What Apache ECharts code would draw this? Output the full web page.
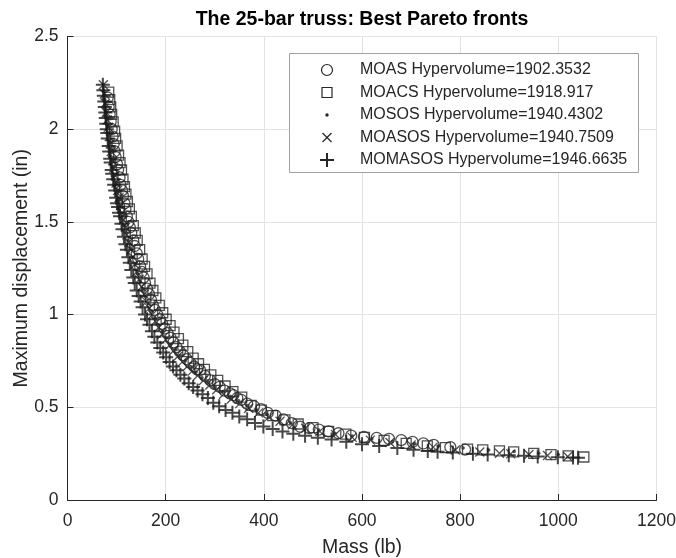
<!DOCTYPE html>
<html>
<head>
<meta charset="utf-8">
<title>The 25-bar truss: Best Pareto fronts</title>
<script src="https://cdn.jsdelivr.net/npm/echarts@6/dist/echarts.min.js"></script>
<style>
  html, body { margin: 0; padding: 0; background: #fff; }
  #chart { width: 676px; height: 558px; }
</style>
</head>
<body>
<div id="chart"></div>
<script>
  // values (mass in lb, max displacement in in)
  const moasMass = [82, 84, 86, 88, 90, 92, 94, 96, 98, 101, 103, 106, 108, 111, 113, 116, 118, 121, 124, 127, 130, 134, 137, 141, 144, 148, 151, 155, 158, 162, 166, 170, 174, 178, 183, 188, 193, 198, 204, 210, 216, 222, 229, 236, 243, 250, 258, 264, 270, 280, 291, 300, 310, 320, 331, 338, 346, 354, 366, 380, 394, 408, 424, 440, 457, 474, 493, 512, 532, 552, 578, 604, 630, 655, 680, 703, 725, 746, 780, 810]
  const moasDisp = [2.17, 2.12, 2.08, 2.04, 2.00, 1.96, 1.92, 1.88, 1.85, 1.81, 1.78, 1.74, 1.70, 1.67, 1.64, 1.60, 1.57, 1.53, 1.50, 1.47, 1.44, 1.40, 1.37, 1.33, 1.30, 1.26, 1.23, 1.20, 1.17, 1.14, 1.11, 1.08, 1.05, 1.025, 1.00, 0.975, 0.95, 0.925, 0.90, 0.875, 0.85, 0.825, 0.80, 0.78, 0.76, 0.74, 0.72, 0.705, 0.70, 0.67, 0.645, 0.625, 0.61, 0.59, 0.575, 0.566, 0.55, 0.54, 0.52, 0.505, 0.49, 0.47, 0.455, 0.435, 0.415, 0.395, 0.387, 0.38, 0.37, 0.36, 0.347, 0.34, 0.335, 0.33, 0.323, 0.313, 0.305, 0.297, 0.285, 0.272]

  const moacsMass = [84, 86, 88, 90, 93, 96, 98, 101, 104, 107, 110, 113, 116, 119, 122, 126, 130, 134, 138, 142, 147, 152, 157, 162, 168, 174, 180, 187, 194, 201, 209, 217, 226, 235, 245, 256, 267, 279, 292, 306, 321, 337, 355, 374, 395, 418, 443, 470, 500, 532, 567, 605, 645, 690, 733, 770, 815, 846, 880, 909, 950, 985, 1020, 1052]
  const moacsDisp = [2.20, 2.16, 2.12, 2.08, 2.04, 1.99, 1.95, 1.91, 1.86, 1.82, 1.78, 1.73, 1.69, 1.65, 1.61, 1.57, 1.53, 1.48, 1.44, 1.40, 1.35, 1.30, 1.26, 1.22, 1.17, 1.13, 1.09, 1.05, 1.01, 0.975, 0.94, 0.905, 0.87, 0.835, 0.80, 0.765, 0.735, 0.705, 0.675, 0.645, 0.615, 0.585, 0.555, 0.51, 0.485, 0.455, 0.432, 0.41, 0.39, 0.37, 0.355, 0.338, 0.322, 0.305, 0.292, 0.282, 0.274, 0.27, 0.265, 0.26, 0.252, 0.245, 0.238, 0.232]

  const mososMass = [75, 76, 78, 80, 82, 84, 86, 88, 91, 93, 96, 99, 102, 105, 108, 112, 116, 120, 124, 128, 133, 138, 143, 148, 154, 160, 166, 172, 179, 186, 194, 202, 211, 220, 230, 240, 251, 262, 274, 287, 301, 316, 332, 349, 367, 386, 407, 430, 455, 482, 512, 545, 580, 620, 662, 708, 756, 806, 858, 910, 960, 1000]
  const mososDisp = [2.20, 2.16, 2.12, 2.07, 2.02, 1.98, 1.93, 1.89, 1.84, 1.80, 1.75, 1.70, 1.66, 1.62, 1.58, 1.53, 1.48, 1.44, 1.40, 1.36, 1.31, 1.27, 1.22, 1.18, 1.14, 1.10, 1.06, 1.02, 0.98, 0.945, 0.91, 0.875, 0.84, 0.81, 0.78, 0.75, 0.72, 0.69, 0.66, 0.635, 0.61, 0.585, 0.56, 0.535, 0.51, 0.485, 0.46, 0.438, 0.415, 0.395, 0.377, 0.36, 0.345, 0.33, 0.316, 0.303, 0.291, 0.28, 0.27, 0.261, 0.252, 0.246]

  const moasosMass = [73, 75, 77, 79, 81, 83, 85, 87, 89, 92, 94, 97, 99, 102, 105, 108, 111, 114, 118, 121, 125, 129, 133, 137, 141, 146, 151, 156, 161, 167, 173, 179, 186, 193, 200, 208, 216, 225, 234, 244, 254, 265, 277, 290, 304, 318, 334, 351, 369, 389, 410, 433, 458, 485, 514, 546, 580, 617, 657, 700, 745, 790, 840, 880, 903, 940, 978, 1019]
  const moasosDisp = [2.24, 2.19, 2.14, 2.09, 2.05, 2.01, 1.96, 1.92, 1.88, 1.83, 1.79, 1.75, 1.71, 1.67, 1.63, 1.59, 1.55, 1.51, 1.47, 1.43, 1.39, 1.35, 1.31, 1.27, 1.23, 1.19, 1.15, 1.11, 1.07, 1.035, 1.00, 0.965, 0.93, 0.895, 0.865, 0.835, 0.805, 0.775, 0.745, 0.72, 0.695, 0.67, 0.645, 0.62, 0.595, 0.57, 0.545, 0.52, 0.495, 0.47, 0.447, 0.425, 0.405, 0.387, 0.37, 0.353, 0.338, 0.323, 0.31, 0.297, 0.285, 0.27, 0.259, 0.252, 0.249, 0.245, 0.24, 0.235]

  const momasosMass = [72, 73, 74, 75, 76, 77, 78, 79, 80, 81, 82, 84, 85, 87, 88, 90, 91, 93, 95, 97, 99, 101, 103, 105, 107, 110, 112, 115, 118, 121, 124, 127, 130, 134, 137, 141, 145, 149, 153, 158, 162, 167, 172, 177, 183, 189, 195, 201, 208, 215, 222, 230, 238, 247, 256, 265, 275, 286, 297, 309, 322, 336, 350, 366, 382, 399, 418, 438, 460, 484, 510, 538, 568, 600, 635, 672, 705, 734, 754, 785, 826, 856, 899, 930, 958, 999, 1030, 1040]
  const momasosDisp = [2.24, 2.21, 2.18, 2.15, 2.12, 2.09, 2.06, 2.03, 2.00, 1.98, 1.95, 1.91, 1.88, 1.84, 1.82, 1.78, 1.76, 1.73, 1.70, 1.67, 1.63, 1.60, 1.58, 1.55, 1.53, 1.49, 1.46, 1.42, 1.38, 1.35, 1.31, 1.28, 1.24, 1.20, 1.17, 1.13, 1.10, 1.07, 1.04, 1.00, 0.975, 0.945, 0.91, 0.88, 0.85, 0.82, 0.795, 0.77, 0.745, 0.72, 0.70, 0.675, 0.655, 0.63, 0.61, 0.59, 0.57, 0.55, 0.525, 0.505, 0.485, 0.47, 0.45, 0.435, 0.415, 0.397, 0.383, 0.37, 0.358, 0.347, 0.336, 0.326, 0.314, 0.301, 0.291, 0.28, 0.271, 0.264, 0.26, 0.256, 0.25, 0.246, 0.241, 0.238, 0.235, 0.231, 0.229, 0.228]

  const legendNames = ['MOAS Hypervolume=1902.3532', 'MOACS Hypervolume=1918.917', 'MOSOS Hypervolume=1940.4302', 'MOASOS Hypervolume=1940.7509', 'MOMASOS Hypervolume=1946.6635']
  const xTicks = [0, 200, 400, 600, 800, 1000, 1200]
  const yTicks = [0, 0.5, 1, 1.5, 2, 2.5]

  const ink = '#262626'
  const font = '"Liberation Sans", Arial, Helvetica, sans-serif'

  function pairs (xs, ys) {
    if (xs.length !== ys.length) console.error('length mismatch', xs.length, ys.length)
    return xs.map((x, i) => [x, ys[i]])
  }

  let myChart = echarts.init(document.getElementById('chart'), null, { renderer: 'canvas' })

  // legend drawn by hand, matlab style box
  let lx = 327
  let ly0 = 70
  let lgap = 22.5
  let legendIcons = [
    { type: 'circle', shape: { cx: lx, cy: ly0, r: 5.5 }, style: { fill: 'none', stroke: ink, lineWidth: 1.2 } },
    { type: 'rect', shape: { x: lx - 5, y: ly0 + lgap - 5, width: 10, height: 10 }, style: { fill: 'none', stroke: ink, lineWidth: 1.2 } },
    { type: 'circle', shape: { cx: lx, cy: ly0 + lgap * 2, r: 1.7 }, style: { fill: ink } },
    { type: 'polyline', shape: { points: [[lx - 4.5, ly0 + lgap * 3 - 4.5], [lx + 4.5, ly0 + lgap * 3 + 4.5]] }, style: { stroke: ink, lineWidth: 1.2 } },
    { type: 'polyline', shape: { points: [[lx + 4.5, ly0 + lgap * 3 - 4.5], [lx - 4.5, ly0 + lgap * 3 + 4.5]] }, style: { stroke: ink, lineWidth: 1.2 } },
    { type: 'polyline', shape: { points: [[lx - 7, ly0 + lgap * 4], [lx + 7, ly0 + lgap * 4]] }, style: { stroke: ink, lineWidth: 2 } },
    { type: 'polyline', shape: { points: [[lx, ly0 + lgap * 4 - 7], [lx, ly0 + lgap * 4 + 7]] }, style: { stroke: ink, lineWidth: 2 } }
  ]
  let legendTexts = legendNames.map((name, i) => ({
    type: 'text',
    x: 360,
    y: ly0 + lgap * i,
    style: { text: name, fill: ink, font: '16px ' + font, textVerticalAlign: 'middle' }
  }))

  let markStyle = { color: 'none', borderColor: ink, borderWidth: 1.3 }

  let option = {
    animation: false,
    backgroundColor: '#fff',
    grid: { left: 67.5, right: 19.5, top: 36.5, bottom: 58, outerBoundsMode: 'none', containLabel: false },
    xAxis: {
      type: 'value',
      min: xTicks[0],
      max: xTicks[xTicks.length - 1],
      interval: 200,
      name: 'Mass (lb)',
      nameLocation: 'middle',
      nameGap: 38,
      nameMoveOverlap: false,
      nameTextStyle: { color: ink, fontSize: 19.5, fontFamily: font },
      axisLine: { show: true, onZero: false, lineStyle: { color: ink, width: 1 } },
      axisTick: { show: true, inside: true, length: 6, lineStyle: { color: ink } },
      axisLabel: { color: ink, fontSize: 17.5, fontFamily: font, margin: 12, formatter: v => String(v) },
      splitLine: { show: true, lineStyle: { color: '#e3e3e3', width: 1 } }
    },
    yAxis: {
      type: 'value',
      min: yTicks[0],
      max: yTicks[yTicks.length - 1],
      interval: 0.5,
      name: 'Maximum displacement (in)',
      nameLocation: 'middle',
      nameGap: 36,
      nameMoveOverlap: false,
      nameTextStyle: { color: ink, fontSize: 19.5, fontFamily: font },
      axisLine: { show: true, onZero: false, lineStyle: { color: ink, width: 1 } },
      axisTick: { show: true, inside: true, length: 6, lineStyle: { color: ink } },
      axisLabel: { color: ink, fontSize: 17.5, fontFamily: font, margin: 9, formatter: v => String(v) },
      splitLine: { show: true, lineStyle: { color: '#e3e3e3', width: 1 } }
    },
    graphic: [
      {
        type: 'text',
        x: 362,
        y: 19.5,
        style: { text: 'The 25-bar truss: Best Pareto fronts', fill: '#000', font: 'bold 19.5px ' + font, textAlign: 'center', textVerticalAlign: 'middle' }
      },
      {
        type: 'rect',
        shape: { x: 289.5, y: 53.5, width: 349, height: 119 },
        style: { fill: '#fff', stroke: '#a0a0a0', lineWidth: 1 },
        z: 100
      }
    ].concat(legendIcons.map(g => Object.assign(g, { z: 101 })), legendTexts.map(g => Object.assign(g, { z: 101 }))),
    series: [
      {
        name: legendNames[0],
        type: 'scatter',
        symbol: 'circle',
        symbolSize: 11,
        itemStyle: markStyle,
        data: pairs(moasMass, moasDisp)
      },
      {
        name: legendNames[1],
        type: 'scatter',
        symbol: 'rect',
        symbolSize: 10,
        itemStyle: markStyle,
        data: pairs(moacsMass, moacsDisp)
      },
      {
        name: legendNames[2],
        type: 'scatter',
        symbol: 'circle',
        symbolSize: 3.5,
        itemStyle: { color: ink },
        data: pairs(mososMass, mososDisp)
      },
      {
        name: legendNames[3],
        type: 'scatter',
        symbol: 'path://M0,0L10,10M10,0L0,10',
        symbolSize: 9,
        itemStyle: { color: 'none', borderColor: ink, borderWidth: 1.3 },
        data: pairs(moasosMass, moasosDisp)
      },
      {
        name: legendNames[4],
        type: 'scatter',
        symbol: 'path://M5,0L5,10M0,5L10,5',
        symbolSize: 14,
        itemStyle: { color: 'none', borderColor: '#1a1a1a', borderWidth: 2 },
        data: pairs(momasosMass, momasosDisp)
      }
    ]
  }
  myChart.setOption(option)
</script>
</body>
</html>
